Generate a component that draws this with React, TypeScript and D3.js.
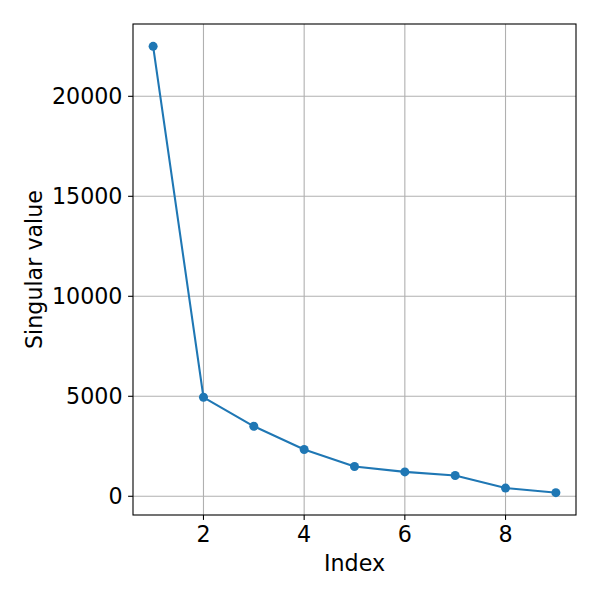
import React from "react";
import * as d3 from "d3";

const indices = [1, 2, 3, 4, 5, 6, 7, 8, 9];
const singularValues = [22500, 4950, 3500, 2340, 1490, 1220, 1040, 410, 180];
const xTicks = [2, 4, 6, 8];
const yTicks = [0, 5000, 10000, 15000, 20000];

const W = 600, H = 600;
const L = 133, R = 576, T = 24, B = 515;
const FONT = "DejaVu Sans, sans-serif";
const FS = 22.2;
const BLUE = "#1f77b4";

export default function App() {
  const x = d3.scaleLinear().domain([0.6, 9.4]).range([L, R]);
  const yMin = 180 - (22500 - 180) * 0.05;
  const yMax = 22500 + (22500 - 180) * 0.05;
  const y = d3.scaleLinear().domain([yMin, yMax]).range([B, T]);
  const pts = indices.map((d, i) => [d, singularValues[i]] as [number, number]);
  const line = d3.line<[number, number]>().x(d => x(d[0])).y(d => y(d[1]));
  return (
    <svg width={W} height={H} style={{ position: "absolute", left: 0, top: 0, background: "#fff" }}>
      <rect x={0} y={0} width={W} height={H} fill="#fff" />
      {xTicks.map(t => (
        <line key={"gx" + t} x1={x(t)} x2={x(t)} y1={T} y2={B} stroke="#b0b0b0" strokeWidth={1.1} />
      ))}
      {yTicks.map(t => (
        <line key={"gy" + t} x1={L} x2={R} y1={y(t)} y2={y(t)} stroke="#b0b0b0" strokeWidth={1.1} />
      ))}
      <path d={line(pts) || ""} fill="none" stroke={BLUE} strokeWidth={2.08} strokeLinejoin="round" strokeLinecap="square" />
      {pts.map((p, i) => (
        <circle key={i} cx={x(p[0])} cy={y(p[1])} r={4.5} fill={BLUE} />
      ))}
      <rect x={L} y={T} width={R - L} height={B - T} fill="none" stroke="#000" strokeWidth={1.1} />
      {xTicks.map(t => (
        <g key={"tx" + t}>
          <line x1={x(t)} x2={x(t)} y1={B} y2={B + 4.9} stroke="#000" strokeWidth={1.1} />
          <text x={x(t)} y={542} textAnchor="middle" fontFamily={FONT} fontSize={FS} fill="#000">{t}</text>
        </g>
      ))}
      {yTicks.map(t => (
        <g key={"ty" + t}>
          <line x1={L - 4.9} x2={L} y1={y(t)} y2={y(t)} stroke="#000" strokeWidth={1.1} />
          <text x={122.5} y={y(t) + 8} textAnchor="end" fontFamily={FONT} fontSize={FS} fill="#000">{t}</text>
        </g>
      ))}
      <text x={(L + R) / 2} y={571} textAnchor="middle" fontFamily={FONT} fontSize={FS} fill="#000">Index</text>
      <text transform={`translate(42,${(T + B) / 2}) rotate(-90)`} textAnchor="middle" fontFamily={FONT} fontSize={FS} fill="#000">Singular value</text>
    </svg>
  );
}
